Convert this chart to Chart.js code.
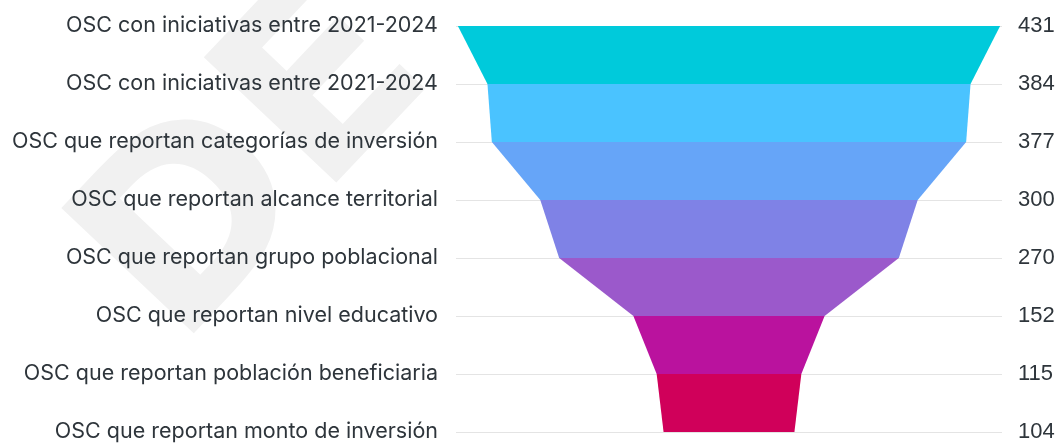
<!DOCTYPE html>
<html>
<head>
<meta charset="utf-8">
<script src="https://cdn.jsdelivr.net/npm/chart.js@4.4.1/dist/chart.umd.min.js"></script>
<style>
  html, body { margin: 0; padding: 0; background: #fff; overflow: hidden; }
  #wrap { width: 1063px; height: 443px; position: relative; }
</style>
</head>
<body>
<div id="wrap"><canvas id="funnel"></canvas></div>
<script>
// Funnel stages (top to bottom)
var stageLabels = [
    'OSC con iniciativas entre 2021-2024',
    'OSC con iniciativas entre 2021-2024',
    'OSC que reportan categorías de inversión',
    'OSC que reportan alcance territorial',
    'OSC que reportan grupo poblacional',
    'OSC que reportan nivel educativo',
    'OSC que reportan población beneficiaria',
    'OSC que reportan monto de inversión'
];
var stageValues = [431, 384, 377, 300, 270, 152, 115, 104];
var bandColors = ['#00cadb', '#4ac3ff', '#66a5f8', '#7f82e6', '#9b59cb', '#ba129e', '#d0005a'];

// left and right edges of the funnel, centred on zero
var leftEdge = stageValues.map(function(v){ return -v / 2; });
var rightEdge = stageValues.map(function(v){ return v / 2; });

// faint watermark behind everything
var watermark = {
    id: 'watermark',
    beforeDraw: function(chart){
        var ctx = chart.ctx;
        ctx.save();
        ctx.fillStyle = '#f1f1f1';
        ctx.font = 'bold 250px "DejaVu Sans"';
        ctx.translate(178, 350);
        ctx.rotate(-46.6 * Math.PI / 180);
        ctx.fillText('DE', 0, 0);
        ctx.restore();
    }
};

// drop the extra space chart.js keeps for the first/last tick label
function fixAxis(width){
    return function(scale){
        scale.width = width;
        scale.paddingTop = 0;
        scale.paddingBottom = 0;
    };
}

var ctxFunnel = document.getElementById('funnel');
new Chart(ctxFunnel, {
    type: 'line',
    data: {
        labels: stageLabels,
        datasets: [
            {
                data: leftEdge,
                borderWidth: 0,
                pointRadius: 0,
                fill: false
            },
            {
                data: rightEdge,
                borderWidth: 0,
                pointRadius: 0,
                fill: '-1',
                segment: {
                    backgroundColor: function(c){ return bandColors[c.p0DataIndex]; }
                }
            }
        ]
    },
    options: {
        indexAxis: 'y',
        responsive: true,
        maintainAspectRatio: false,
        animation: false,
        layout: { padding: { top: 26, bottom: 11, left: 0, right: 0 } },
        plugins: {
            legend: { display: false },
            tooltip: { enabled: false }
        },
        scales: {
            x: {
                type: 'linear',
                min: -217,
                max: 217,
                display: false
            },
            y: {
                type: 'category',
                position: 'left',
                grid: { color: '#e4e4e4', lineWidth: 1, drawTicks: false },
                border: { display: false },
                ticks: {
                    padding: 18,
                    color: '#2e353b',
                    font: { family: 'Inter', size: 21.5 }
                },
                afterFit: fixAxis(456)
            },
            y2: {
                type: 'category',
                position: 'right',
                labels: stageValues.map(String),
                grid: { display: false, drawTicks: false },
                border: { display: false },
                ticks: {
                    padding: 16,
                    color: '#2e353b',
                    font: { family: 'Liberation Sans', size: 22 }
                },
                afterFit: fixAxis(61)
            }
        }
    },
    plugins: [watermark]
});
</script>
</body>
</html>
